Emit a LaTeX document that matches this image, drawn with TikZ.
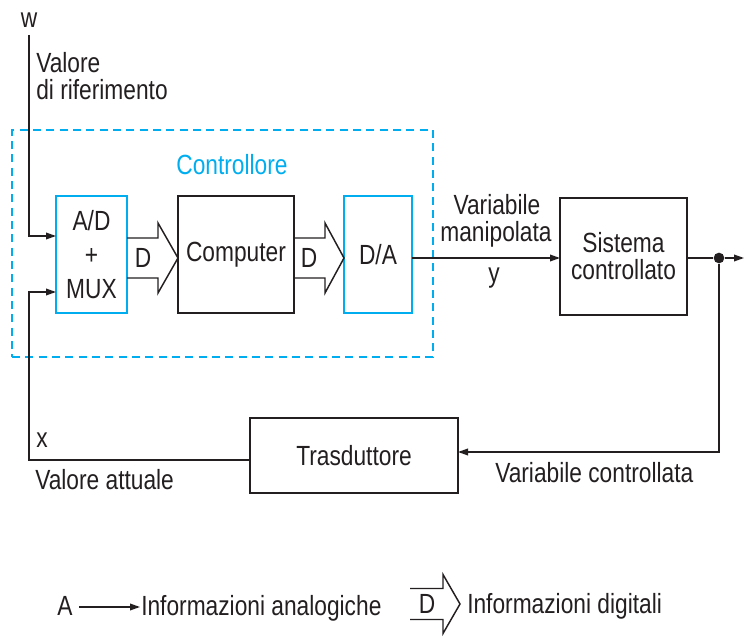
\documentclass[tikz,border=0pt]{standalone}
\usepackage{fontspec}
\setmainfont[FakeStretch=0.82]{Liberation Sans}
\usetikzlibrary{arrows.meta}
\definecolor{ink}{HTML}{231F20}
\definecolor{cyanb}{HTML}{00AEEF}
\begin{document}
\begin{tikzpicture}[x=0.75pt,y=-0.75pt,
  font=\fontsize{20.8}{20.25}\selectfont,
  every node/.style={text=ink, inner sep=0pt},
  bbox/.style={draw=ink, line width=1.1pt, align=center},
  cbox/.style={draw=cyanb, line width=1.4pt, align=center},
  wire/.style={draw=ink, line width=1.1pt},
  arr/.style={wire, -{Triangle[length=7.5pt,width=5pt]}},
  hollow/.style={draw=ink, line width=1.1pt, line join=miter},
  lbl/.style={anchor=base},
  lbll/.style={anchor=base west}]
\useasboundingbox (0,0) rectangle (744,638);

% controller frame
\node[draw=cyanb, line width=1.1pt, dash pattern=on 6pt off 4pt,
      minimum width=315.75pt, minimum height=170.25pt] (ctrl) at (222.5,243.5) {};
\node[lbl, text=cyanb] (ctl) at (232,175) {Controllore};

% blocks
\node[cbox, minimum width=53.25pt, minimum height=87.75pt] (ad) at (91.5,254.5) {A/D\\[5pt]+\\[5pt]MUX};
\node[bbox, minimum width=87pt, minimum height=87.75pt] (cpu) at (236,254.5) {Computer};
\node[cbox, minimum width=51pt, minimum height=87.75pt] (da) at (378,254.5) {D/A};
\node[bbox, minimum width=95.25pt, minimum height=87.75pt] (sis) at (623.5,256.5) {Sistema\\controllato};
\node[bbox, minimum width=156pt, minimum height=56.25pt] (tr) at (354,455.5) {Trasduttore};

% hollow digital arrows
\draw[hollow] (127,238) -- (158,238) -- (158,223) -- (178,258) -- (158,293) -- (158,278) -- (127,278);
\node[lbl] (d1) at (143,268) {D};
\draw[hollow] (294,238) -- (325,238) -- (325,223) -- (344,258) -- (325,293) -- (325,278) -- (294,278);
\node[lbl] (d2) at (309,268) {D};

% reference input
\node[lbl] (w) at (29,28) {w};
\coordinate (wtop) at (29,35);
\coordinate (in1) at (56,236);
\draw[arr] (wtop) |- (in1);
\node[lbll] (vr1) at (36,73) {Valore};
\node[lbll] (vr2) at (36,100) {di riferimento};

% forward path
\coordinate (dao) at (412,258);
\coordinate (sisi) at (560,258);
\draw[arr] (dao) -- (sisi);
\node[lbl] (vm1) at (497,215) {Variabile};
\node[lbl] (vm2) at (496,242) {manipolata};
\node[lbl] (ylab) at (494,283) {y};

\coordinate (sisr) at (687,258);
\node[circle, fill=ink, minimum size=8pt] (dot) at (719,258) {};
\coordinate (outr) at (744,258);
\draw[wire] (sisr) -- (dot);
\draw[arr] (dot) -- (outr);

% feedback
\coordinate (fb1) at (719,452);
\coordinate (tri) at (458,452);
\draw[arr] (dot.south) -- (fb1) -- (tri);
\node[lbll] (vc) at (495,483) {Variabile controllata};

\coordinate (trl) at (250,460);
\coordinate (c1) at (29,460);
\coordinate (in2) at (56,292);
\draw[arr] (trl) -- (c1) |- (in2);
\node[lbl] (xlab) at (42,448) {x};
\node[lbll] (va) at (35,490) {Valore attuale};

% legend
\node[lbl] (la) at (65,615) {A};
\coordinate (a1) at (79,607);
\coordinate (a2) at (140,607);
\draw[arr] (a1) -- (a2);
\node[lbll] (ia) at (141,615) {Informazioni analogiche};
\draw[hollow] (410,588.5) -- (443,588.5) -- (443,574.5) -- (460,604) -- (443,633.5) -- (443,619.5) -- (410,619.5);
\node[lbl] (ld) at (427,614) {D};
\node[lbll] (id) at (467,614) {Informazioni digitali};
\end{tikzpicture}
\end{document}
